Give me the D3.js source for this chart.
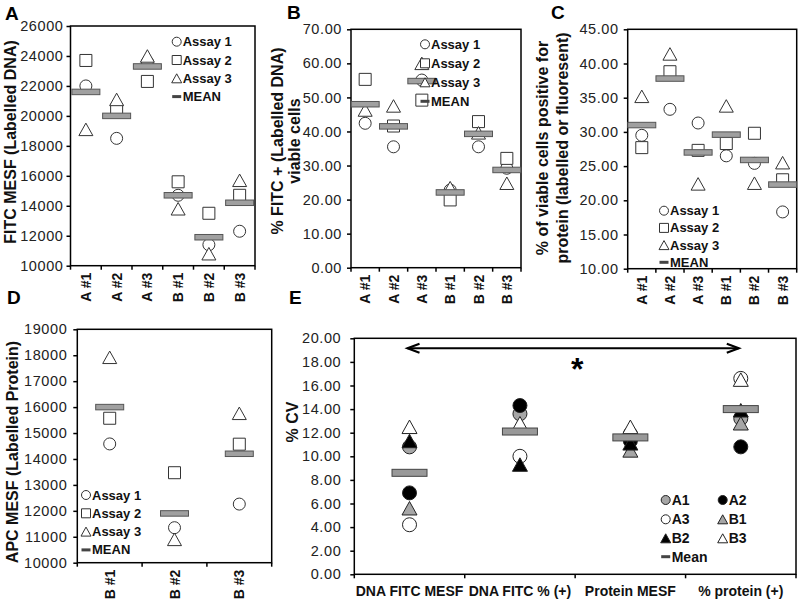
<!DOCTYPE html>
<html><head><meta charset="utf-8">
<script src="https://cdn.jsdelivr.net/npm/d3@7"></script>
<style>body{margin:0;background:#fff}svg{display:block}text{font-family:"Liberation Sans",Arial,Helvetica,sans-serif}</style>
</head><body><svg id="c" width="800" height="601"></svg>
<script>
// ---------- DATA ----------
const cats6 = ["A #1","A #2","A #3","B #1","B #2","B #3"];
const cats3 = ["B #1","B #2","B #3"];
const catsE = ["DNA FITC MESF","DNA FITC % (+)","Protein MESF","% protein (+)"];
const assayNames = ["Assay 1","Assay 2","Assay 3","MEAN"];

// Panel A: FITC MESF (Labelled DNA)
const ticksA = [10000,12000,14000,16000,18000,20000,22000,24000,26000];
const aAssay1 = [22000,18500,23600,14700,11400,12300];
const aAssay2 = [23700,20400,22300,15600,13500,14700];
const aAssay3 = [19100,21100,24000,13800,10800,15700];
const aMean   = [21600,20000,23300,14700,11900,14200];

// Panel B: % FITC + viable cells
const ticksB = [0,10,20,30,40,50,60,70];
const bAssay1 = [42.4,35.5,55.1,22.8,35.5,29.2];
const bAssay2 = [55.3,41.6,49.2,19.9,42.9,32.1];
const bAssay3 = [46.3,47.5,60.0,23.5,39.6,24.8];
const bMean   = [48.0,41.5,54.8,22.1,39.3,28.7];

// Panel C: % viable cells positive for protein
const ticksC = [10,15,20,25,30,35,40,45];
const cAssay1 = [29.5,33.3,31.3,26.5,25.4,18.3];
const cAssay2 = [27.7,38.8,27.3,28.3,29.8,23.0];
const cAssay3 = [35.2,41.4,22.4,33.8,22.5,25.5];
const cMean   = [31.0,37.8,27.0,29.6,25.9,22.3];

// Panel D: APC MESF (Labelled Protein)
const ticksD = [10000,11000,12000,13000,14000,15000,16000,17000,18000,19000];
const dAssay1 = [14580,11350,12260];
const dAssay2 = [15570,13470,14570];
const dAssay3 = [17920,10900,15760];
const dMean   = [16000,11900,14200];

// Panel E: % CV
const ticksE = [0,2,4,6,8,10,12,14,16,18,20];
const eNames = ["A1","A2","A3","B1","B2","B3","Mean"];
const eA1 = [10.8,13.6,11.6,13.2];
const eA2 = [6.9,14.3,11.3,10.8];
const eA3 = [4.2,10.0,11.9,16.6];
const eB1 = [5.6,12.6,10.5,12.8];
const eB2 = [11.3,9.3,11.1,13.9];
const eB3 = [12.5,12.8,12.5,16.5];
const eMean = [8.6,12.1,11.6,14.0];

// ---------- DRAWING ----------
const svg = d3.select("#c");
const GREY = "#a6a6a6", MEANF = "#a0a0a0", MEANS = "#555";
const tri = (w,h)=>`M0,${-h/2}L${w/2},${h/2}L${-w/2},${h/2}Z`;
const sq = s=>`M${-s/2},${-s/2}h${s}v${s}h${-s}Z`;
const circ = r=>d3.symbol(d3.symbolCircle, Math.PI*r*r)();

function frameAxes(o){
  const g = svg.append("g");
  const x = d3.scaleBand().domain(o.cats).range([o.left,o.right]);
  const y = d3.scaleLinear().domain([o.ticks[0], o.ticks[o.ticks.length-1]]).range([o.bottom,o.top]);
  const ya = g.append("g").attr("transform",`translate(${o.left},0)`)
    .call(d3.axisLeft(y).tickValues(o.ticks).tickSize(4).tickPadding(o.pad).tickFormat(o.fmt));
  ya.select(".domain").remove();
  ya.selectAll("line").attr("stroke","#000").attr("stroke-width",1.5);
  ya.selectAll("text").attr("font-size",14.5).attr("letter-spacing","0.6px").attr("fill","#222")
    .attr("font-family",'"Liberation Sans",Arial,sans-serif');
  const bounds = o.cats.map(c=>x(c)).concat([o.right]);
  g.selectAll("line.xt").data(bounds).join("line").attr("class","xt")
    .attr("x1",d=>d).attr("x2",d=>d).attr("y1",o.bottom).attr("y2",o.bottom+4)
    .attr("stroke","#000").attr("stroke-width",1.5);
  g.append("rect").attr("x",o.left).attr("y",o.top).attr("width",o.right-o.left)
    .attr("height",o.bottom-o.top).attr("fill","none").attr("stroke","#000").attr("stroke-width",1.5);
  return {g,x,y};
}

function assayPanel(o){
  const {g,x,y} = frameAxes(o);
  const bw = x.bandwidth();
  // rotated category labels
  g.selectAll("text.cat").data(o.cats).join("text").attr("class","cat")
    .attr("transform",d=>`translate(${x(d)+bw/2},${o.bottom+7}) rotate(-90)`)
    .attr("text-anchor","end").attr("dominant-baseline","central")
    .attr("font-size",14).attr("font-weight","bold").attr("fill","#111").text(d=>d);
  const cx = i=>x(o.cats[i])+bw/2;
  const mk = (vals, path, fill)=>g.append("g").selectAll("path").data(vals).join("path")
    .attr("transform",(d,i)=>`translate(${cx(i)},${y(d)})`).attr("d",path)
    .attr("fill",fill).attr("stroke","#333").attr("stroke-width",1);
  mk(o.s1, circ(6), "#fff");
  mk(o.s2, sq(12), "#fff");
  mk(o.s3, tri(14,12.5), "#fff");
  g.append("g").selectAll("rect").data(o.mean).join("rect")
    .attr("x",(d,i)=>cx(i)-14).attr("y",d=>y(d)-2.75).attr("width",28).attr("height",5.5)
    .attr("fill",MEANF).attr("stroke",MEANS).attr("stroke-width",1);
  // legend
  const lg = g.append("g");
  const shapes = [circ(4.5), sq(9), tri(10,9), null];
  assayNames.forEach((n,i)=>{
    const ly = o.leg[1] + i*o.leg[2];
    if (shapes[i]) lg.append("path").attr("transform",`translate(${o.leg[0]},${ly})`).attr("d",shapes[i])
      .attr("fill","#fff").attr("stroke","#333").attr("stroke-width",1);
    else lg.append("rect").attr("x",o.leg[0]-4.5).attr("y",ly-1.5).attr("width",9).attr("height",3).attr("fill","#444");
    lg.append("text").attr("x",o.leg[0]+6).attr("y",ly).attr("dominant-baseline","central")
      .attr("font-size",13).attr("font-weight","bold").attr("fill","#111").text(n);
  });
  // y title
  o.title.forEach((t,i)=>{
    g.append("text").attr("transform",`translate(${o.tx[i]},${o.ty}) rotate(-90)`)
      .attr("text-anchor","middle").attr("dominant-baseline","central")
      .attr("font-size",16).attr("font-weight","bold").attr("fill","#111").text(t);
  });
}

const f2 = d3.format(".2f"), f0 = d3.format("d");
assayPanel({cats:cats6, ticks:ticksA, fmt:f0, pad:3, left:70.5, right:255, top:26, bottom:265.7,
  s1:aAssay1, s2:aAssay2, s3:aAssay3, mean:aMean, leg:[176.7,41.7,18.3],
  title:["FITC MESF (Labelled DNA)"], tx:[10], ty:142});
assayPanel({cats:cats6, ticks:ticksB, fmt:f2, pad:5, left:351, right:521, top:29.3, bottom:267.7,
  s1:bAssay1, s2:bAssay2, s3:bAssay3, mean:bMean, leg:[425,44.3,19],
  title:["% FITC + (Labelled DNA)","viable cells"], tx:[277,294], ty:141});
assayPanel({cats:cats6, ticks:ticksC, fmt:f2, pad:5, left:627.7, right:796.7, top:29.3, bottom:268.7,
  s1:cAssay1, s2:cAssay2, s3:cAssay3, mean:cMean, leg:[664,210.7,17.2],
  title:["% of viable cells positive for","protein (labelled or fluoresent)"], tx:[542,562], ty:148});
assayPanel({cats:cats3, ticks:ticksD, fmt:f0, pad:6, left:77.3, right:271.7, top:329.3, bottom:562.7,
  s1:dAssay1, s2:dAssay2, s3:dAssay3, mean:dMean, leg:[86,495,18.3],
  title:["APC MESF (Labelled Protein)"], tx:[12], ty:452});

// Panel E
(function(){
  const o = {cats:catsE, ticks:ticksE, fmt:f2, pad:9, left:354.3, right:796, top:338.3, bottom:574.3};
  const {g,x,y} = frameAxes(o);
  const bw = x.bandwidth();
  const cx = i=>x(catsE[i])+bw/2;
  g.selectAll("text.cat").data(catsE).join("text").attr("class","cat")
    .attr("x",(d,i)=>cx(i)).attr("y",596).attr("text-anchor","middle")
    .attr("font-size",14).attr("font-weight","bold").attr("fill","#111").text(d=>d);
  const series = [
    [eA1, circ(7), GREY], [eA2, circ(7), "#000"], [eA3, circ(7), "#fff"],
    [eB1, tri(15,13.5), GREY], [eB2, tri(15,13.5), "#000"], [eB3, tri(15,13.5), "#fff"]
  ];
  series.forEach(([vals,path,fill])=>{
    g.append("g").selectAll("path").data(vals).join("path")
      .attr("transform",(d,i)=>`translate(${cx(i)},${y(d)})`).attr("d",path)
      .attr("fill",fill).attr("stroke","#222").attr("stroke-width",1);
  });
  g.append("g").selectAll("rect").data(eMean).join("rect")
    .attr("x",(d,i)=>cx(i)-17.5).attr("y",d=>y(d)-3.5).attr("width",35).attr("height",7)
    .attr("fill","#999").attr("stroke","#444").attr("stroke-width",1);
  // arrow between first and last category
  const ay = 348.3, x1 = cx(0)-2, x2 = cx(3)-2;
  g.append("line").attr("x1",x1).attr("x2",x2).attr("y1",ay).attr("y2",ay).attr("stroke","#000").attr("stroke-width",2);
  g.append("path").attr("d",`M${x1+12},${ay-4.5}L${x1},${ay}L${x1+12},${ay+4.5}`).attr("fill","none").attr("stroke","#000").attr("stroke-width",2.2);
  g.append("path").attr("d",`M${x2-12},${ay-4.5}L${x2},${ay}L${x2-12},${ay+4.5}`).attr("fill","none").attr("stroke","#000").attr("stroke-width",2.2);
  g.append("text").attr("x",(x1+x2)/2+4).attr("y",380).attr("text-anchor","middle")
    .attr("font-size",32).attr("font-weight","bold").attr("fill","#000").text("*");
  // legend
  const legPos = [[665.7,500],[722.7,500],[665.7,519.3],[722.7,519.3],[665.7,538.3],[722.7,538.3],[665.7,556.7]];
  const legShapes = [[circ(4.5),GREY],[circ(4.5),"#000"],[circ(4.5),"#fff"],[tri(10,9),GREY],[tri(10,9),"#000"],[tri(10,9),"#fff"],[null,null]];
  eNames.forEach((n,i)=>{
    const [lx,ly] = legPos[i];
    if (legShapes[i][0]) g.append("path").attr("transform",`translate(${lx},${ly})`).attr("d",legShapes[i][0])
      .attr("fill",legShapes[i][1]).attr("stroke","#222").attr("stroke-width",1);
    else g.append("rect").attr("x",lx-4.5).attr("y",ly-1.5).attr("width",9).attr("height",3).attr("fill","#444");
    g.append("text").attr("x",lx+6).attr("y",ly).attr("dominant-baseline","central")
      .attr("font-size",14).attr("font-weight","bold").attr("fill","#111").text(n);
  });
  g.append("text").attr("transform",`translate(292,422) rotate(-90)`).attr("text-anchor","middle")
    .attr("dominant-baseline","central").attr("font-size",16).attr("font-weight","bold").attr("fill","#111").text("% CV");
})();

// panel letters
[["A",5,20],["B",287,19],["C",551,19],["D",7,304],["E",289,304]].forEach(([t,lx,ly])=>{
  svg.append("text").attr("x",lx).attr("y",ly).attr("font-size",19).attr("font-weight","bold").attr("fill","#000").text(t);
});
</script></body></html>
